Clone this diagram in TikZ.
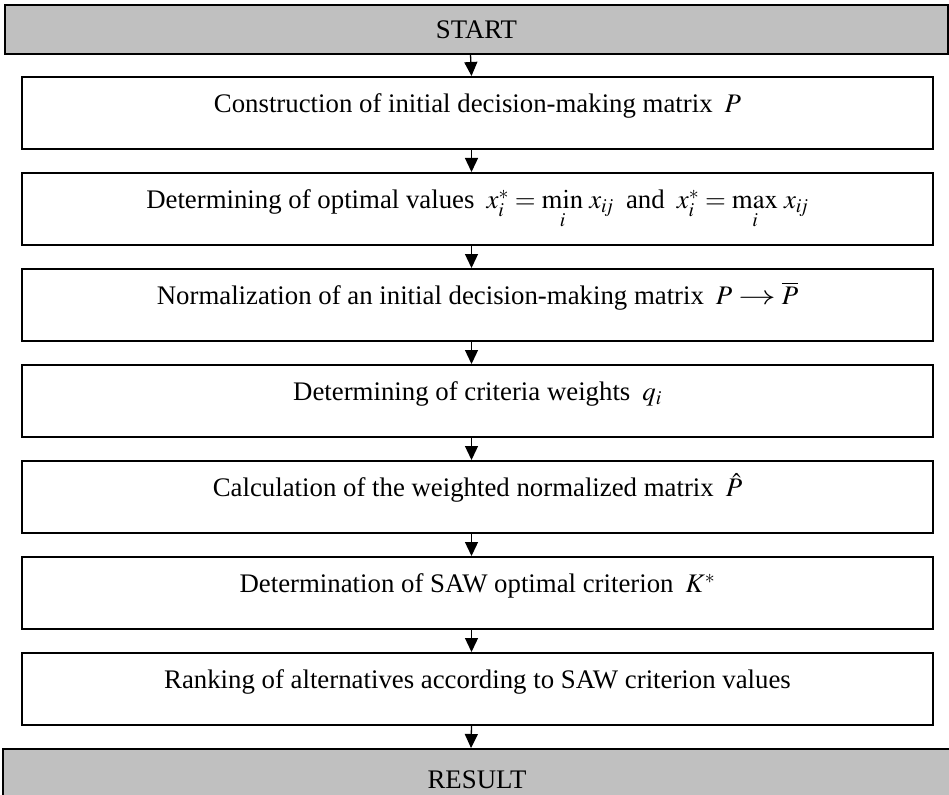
\documentclass[tikz,border=0pt]{standalone}
\usepackage{mathptmx}
\usepackage{fontspec}
\setmainfont{Liberation Serif}
\usetikzlibrary{arrows.meta}

\definecolor{bargray}{RGB}{192,192,192}

\tikzset{
  base/.style={draw=black, line width=1.6pt, rectangle, inner xsep=0pt, inner ysep=0pt,
    font=\fontsize{26.8}{32}\selectfont, anchor=north, align=center},
  stepbox/.style={base, minimum width=911pt, text height=36pt, text depth=36pt},
  endbar/.style={base, fill=bargray},
  flow/.style={line width=1.3pt, -{Triangle[width=13pt,length=14pt]}},
}
\newcommand{\xg}{\hspace{0.2em}}
\newcommand{\mapsarrow}{\mathrel{\scalebox{1.4}[1]{$\rightarrow$}}}

\begin{document}
\begin{tikzpicture}[x=1pt, y=-1pt]
  \useasboundingbox (0,0) rectangle (949,794);

  \node[endbar, minimum width=943pt, text height=33.6pt, text depth=15.4pt] (start) at (476.5,4) {START};

  \node[stepbox] (s1) at (477.5,76)  {Construction of initial decision-making matrix\xg{} $P$};
  \node[stepbox] (s2) at (477.5,172) {Determining of optimal values\xg{} $x_i^* = \mathop{\min}\limits_i\, x_{i\!j}$\xg{} and\xg{} $x_i^* = \mathop{\max}\limits_i\, x_{i\!j}$};
  \node[stepbox] (s3) at (477.5,268) {Normalization of an initial decision-making matrix\xg{} $P \mapsarrow \overline{P}$};
  \node[stepbox] (s4) at (477.5,364) {Determining of criteria weights\xg{} $q_i$};
  \node[stepbox] (s5) at (477.5,460) {Calculation of the weighted normalized matrix\xg{} $\hat{P}$};
  \node[stepbox] (s6) at (477.5,556) {Determination of SAW optimal criterion\xg{} $K^*$};
  \node[stepbox] (s7) at (477.5,652) {Ranking of alternatives according to SAW criterion values};

  \node[endbar, minimum width=948pt, text height=40pt, text depth=12pt] (result) at (477,748) {RESULT};

  \foreach \a/\b in {start/s1, s1/s2, s2/s3, s3/s4, s4/s5, s5/s6, s6/s7, s7/result}
    \draw[flow] ([xshift=-6pt]\a.south) -- ([xshift=-6pt]\b.north);
\end{tikzpicture}
\end{document}
